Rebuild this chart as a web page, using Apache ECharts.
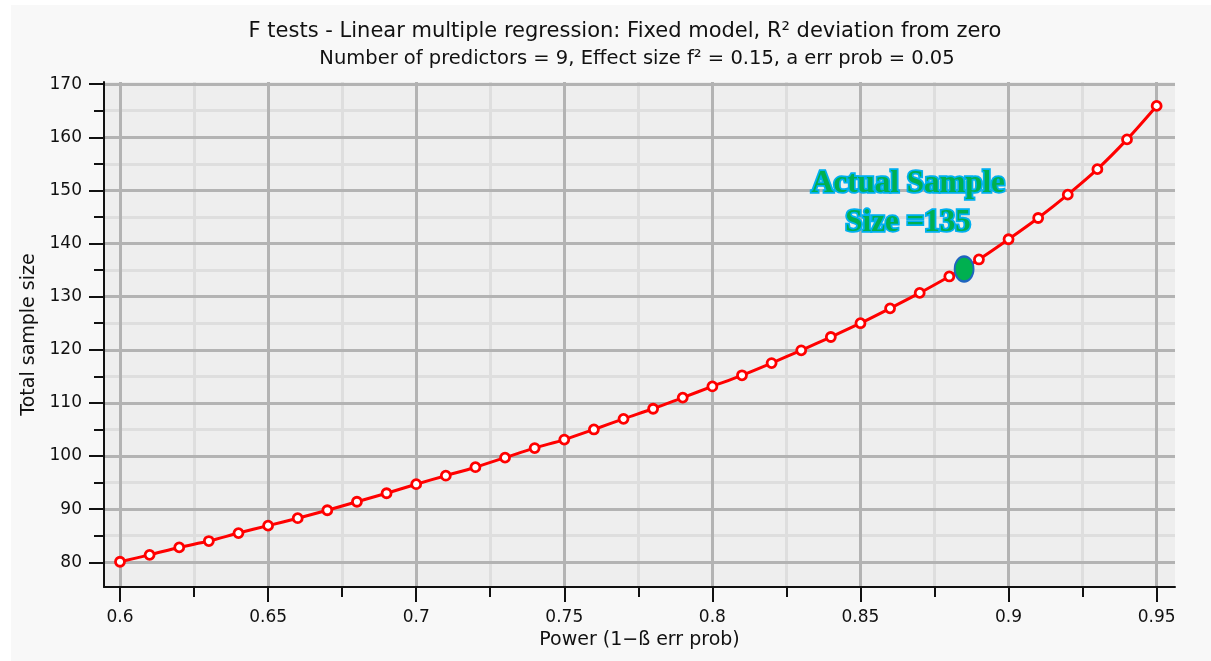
<!DOCTYPE html>
<html>
<head>
<meta charset="utf-8">
<script src="https://cdn.jsdelivr.net/npm/echarts@6/dist/echarts.min.js"></script>
<style>
  html, body { margin: 0; padding: 0; background: #ffffff; }
  #chart { position: absolute; left: 11px; top: 5px; width: 1200px; height: 656px; }
</style>
</head>
<body>
<div id="chart"></div>
<script>
// power values (x) and total sample size (y)
const power = [0.60, 0.61, 0.62, 0.63, 0.64, 0.65, 0.66, 0.67, 0.68, 0.69,
               0.70, 0.71, 0.72, 0.73, 0.74, 0.75, 0.76, 0.77, 0.78, 0.79,
               0.80, 0.81, 0.82, 0.83, 0.84, 0.85, 0.86, 0.87, 0.88, 0.89,
               0.90, 0.91, 0.92, 0.93, 0.94, 0.95];
const sampleSize = [80.1, 81.4, 82.8, 84.0, 85.5, 86.9, 88.3, 89.8, 91.4, 93.0,
                    94.7, 96.3, 97.9, 99.7, 101.5, 103.1, 105.0, 107.0, 108.9, 111.0,
                    113.1, 115.2, 117.5, 119.9, 122.4, 125.0, 127.8, 130.7, 133.8, 137.0,
                    140.8, 144.8, 149.2, 154.0, 159.6, 165.9];

const actualPower = 0.885;
const actualSize = 135.2;

const xMajor = [0.6, 0.65, 0.7, 0.75, 0.8, 0.85, 0.9, 0.95];
const xMinor = [0.625, 0.675, 0.725, 0.775, 0.825, 0.875, 0.925];
const yMajor = [80, 90, 100, 110, 120, 130, 140, 150, 160, 170];
const yMinor = [85, 95, 105, 115, 125, 135, 145, 155, 165];

const chart = echarts.init(document.getElementById('chart'));

const FONT = 'DejaVu Sans';
const xMin = 0.5946, xMax = 0.9562;
const yMin = 75.35, yMax = 170.4;

const option = {
    backgroundColor: '#f8f8f8',
    animation: false,
    title: [{
        text: 'F tests - Linear multiple regression: Fixed model, R² deviation from zero',
        left: 609,
        top: 11,
        textAlign: 'center',
        textStyle: {fontFamily: FONT, fontSize: 21, fontWeight: 'normal', color: '#111'}
    }, {
        text: 'Number of predictors = 9, Effect size f² = 0.15, a err prob = 0.05',
        left: 621,
        top: 39,
        textAlign: 'center',
        textStyle: {fontFamily: FONT, fontSize: 19.5, fontWeight: 'normal', color: '#111'}
    }],
    grid: {
        left: 93,
        right: 36,
        top: 77,
        bottom: 74,
        show: true,
        backgroundColor: '#eeeeee',
        borderWidth: 0
    },
    xAxis: [{
        type: 'value',
        min: xMin,
        max: xMax,
        name: 'Power (1−ß err prob)',
        nameLocation: 'middle',
        nameGap: 38,
        nameTextStyle: {fontFamily: FONT, fontSize: 19, color: '#111'},
        axisLine: {show: true, onZero: false, lineStyle: {color: '#111', width: 2}},
        axisTick: {show: true, customValues: xMajor, length: 15, lineStyle: {color: '#111', width: 2}},
        axisLabel: {customValues: xMajor, margin: 22, fontFamily: FONT, fontSize: 17, color: '#111',
            formatter: v => String(+v.toFixed(3))},
        splitLine: {show: true, lineStyle: {color: '#b3b3b3', width: 3}},
        z: 3
    }, {
        type: 'value',
        min: xMin,
        max: xMax,
        position: 'bottom',
        axisLine: {show: false},
        axisTick: {show: true, customValues: xMinor, length: 10, lineStyle: {color: '#111', width: 2}},
        axisLabel: {show: false},
        splitLine: {show: true, lineStyle: {color: '#dedede', width: 3}},
        z: 2
    }],
    yAxis: [{
        type: 'value',
        min: yMin,
        max: yMax,
        name: 'Total sample size',
        nameLocation: 'middle',
        nameGap: 60,
        nameTextStyle: {fontFamily: FONT, fontSize: 19, color: '#111'},
        axisLine: {show: true, onZero: false, lineStyle: {color: '#111', width: 2}},
        axisTick: {show: true, customValues: yMajor, length: 15, lineStyle: {color: '#111', width: 2}},
        axisLabel: {customValues: yMajor, margin: 22, fontFamily: FONT, fontSize: 17, color: '#111'},
        splitLine: {show: true, lineStyle: {color: '#b3b3b3', width: 3}},
        z: 3
    }, {
        type: 'value',
        min: yMin,
        max: yMax,
        position: 'left',
        axisLine: {show: false},
        axisTick: {show: true, customValues: yMinor, length: 10, lineStyle: {color: '#111', width: 2}},
        axisLabel: {show: false},
        splitLine: {show: true, lineStyle: {color: '#dedede', width: 3}},
        z: 2
    }],
    graphic: [{
        type: 'text',
        left: 897 - 110,
        top: 159,
        z: 100,
        style: {
            text: 'Actual Sample\nSize =135',
            width: 220,
            align: 'center',
            textAlign: 'center',
            font: 'bold 31px "Liberation Serif"',
            lineHeight: 39,
            fill: '#00b050',
            stroke: '#00b0f0',
            lineWidth: 3.5
        }
    }],
    series: [{
        type: 'line',
        data: power.map((p, i) => [p, sampleSize[i]]),
        smooth: 0.3,
        symbol: 'circle',
        symbolSize: 9,
        lineStyle: {color: '#ff0000', width: 3},
        itemStyle: {color: '#ffffff', borderColor: '#ff0000', borderWidth: 2.8},
        z: 5
    }, {
        type: 'scatter',
        data: [[actualPower, actualSize]],
        symbol: 'circle',
        symbolSize: [19, 25],
        itemStyle: {color: '#00b050', borderColor: '#1f64c0', borderWidth: 2, opacity: 1},
        z: 6
    }]
};

chart.setOption(option);
</script>
</body>
</html>
